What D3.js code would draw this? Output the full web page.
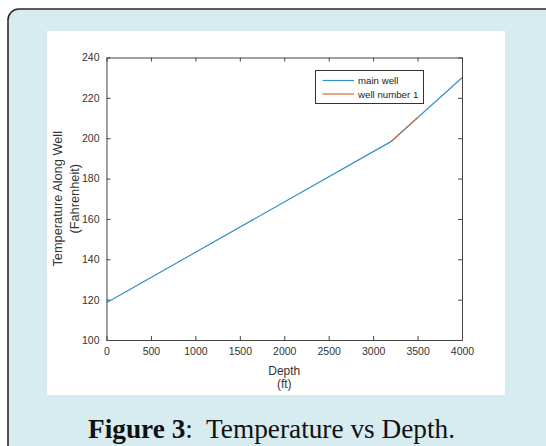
<!DOCTYPE html>
<html>
<head>
<meta charset="utf-8">
<script src="https://cdn.jsdelivr.net/npm/d3@7"></script>
<style>
  html, body { margin: 0; padding: 0; background: #ffffff; }
  svg { display: block; }
</style>
</head>
<body>
<svg id="fig" width="546" height="446"></svg>
<script>
// Temperature profile along the well
const mainWellDepth = [0, 3200, 4000];
const mainWellTemp  = [118.5, 198.3, 230];
const branchDepth   = [3200, 3500];
const branchTemp    = [198.3, 210.2];

const seriesNames  = ["main well", "well number 1"];
const seriesColors = ["#3590c8", "#d2693a"];

const xTicks = [0, 500, 1000, 1500, 2000, 2500, 3000, 3500, 4000];
const yTicks = [100, 120, 140, 160, 180, 200, 220, 240];

const svg = d3.select("#fig");

// Card background with rounded frame
svg.append("rect")
  .attr("x", 8).attr("y", 9)
  .attr("width", 560).attr("height", 460)
  .attr("rx", 11).attr("ry", 11)
  .attr("fill", "#d7ecf1")
  .attr("stroke", "#2a2a2a")
  .attr("stroke-width", 1.6);

// White figure panel
svg.append("rect")
  .attr("x", 47).attr("y", 31)
  .attr("width", 458).attr("height", 364)
  .attr("fill", "#ffffff");

const plotL = 106.5, plotR = 462, plotT = 57.5, plotB = 340;

const x = d3.scaleLinear().domain([0, 4000]).range([plotL, plotR]);
const y = d3.scaleLinear().domain([100, 240]).range([plotB, plotT]);

const axisColor = "#444";
const tickFont = "Liberation Sans, Arial, Helvetica, sans-serif";
const fmt = d3.format("d");

// Tick marks point inward on all four sides
const tickLen = 4;
const g = svg.append("g");

const bottomAxis = g.append("g")
  .attr("transform", `translate(0,${plotB})`)
  .call(d3.axisBottom(x).tickValues(xTicks).tickFormat(fmt).tickSizeInner(-tickLen).tickSizeOuter(0).tickPadding(8));
const leftAxis = g.append("g")
  .attr("transform", `translate(${plotL},0)`)
  .call(d3.axisLeft(y).tickValues(yTicks).tickFormat(fmt).tickSizeInner(-tickLen).tickSizeOuter(0).tickPadding(7));
const topAxis = g.append("g")
  .attr("transform", `translate(0,${plotT})`)
  .call(d3.axisTop(x).tickValues(xTicks).tickSizeInner(-tickLen).tickSizeOuter(0).tickFormat(""));
const rightAxis = g.append("g")
  .attr("transform", `translate(${plotR},0)`)
  .call(d3.axisRight(y).tickValues(yTicks).tickSizeInner(-tickLen).tickSizeOuter(0).tickFormat(""));

[bottomAxis, leftAxis, topAxis, rightAxis].forEach(a => {
  a.select(".domain").attr("stroke", axisColor).attr("stroke-width", 1);
  a.selectAll(".tick line").attr("stroke", axisColor);
  a.selectAll(".tick text")
    .attr("fill", "#333")
    .style("font-family", tickFont)
    .style("font-size", "10.5px");
});

// Data lines
const line = d3.line().x(d => x(d[0])).y(d => y(d[1]));
const mainPts = mainWellDepth.map((d, i) => [d, mainWellTemp[i]]);
const branchPts = branchDepth.map((d, i) => [d, branchTemp[i]]);

svg.append("path").datum(mainPts)
  .attr("d", line).attr("fill", "none")
  .attr("stroke", seriesColors[0]).attr("stroke-width", 1.2);
svg.append("path").datum(branchPts)
  .attr("d", line).attr("fill", "none")
  .attr("stroke", seriesColors[1]).attr("stroke-width", 1.2);

// Axis titles
const labelFont = "Liberation Sans, Arial, Helvetica, sans-serif";
const xMid = (plotL + plotR) / 2;
const xt = svg.append("text")
  .attr("x", xMid).attr("y", 375)
  .attr("text-anchor", "middle")
  .attr("fill", "#333")
  .style("font-family", labelFont).style("font-size", "12px");
xt.append("tspan").attr("x", xMid).text("Depth");
xt.append("tspan").attr("x", xMid).attr("dy", 12.5).text("(ft)");

const yMid = (plotT + plotB) / 2;
const yt = svg.append("text")
  .attr("transform", `translate(62,${yMid}) rotate(-90)`)
  .attr("text-anchor", "middle")
  .attr("fill", "#333")
  .style("font-family", labelFont).style("font-size", "12.8px");
yt.append("tspan").attr("x", 0).attr("y", 0).text("Temperature Along Well");
yt.append("tspan").attr("x", 0).attr("dy", 17).text("(Fahrenheit)");

// Legend
const lg = svg.append("g");
lg.append("rect")
  .attr("x", 315.5).attr("y", 70.5)
  .attr("width", 108).attr("height", 33)
  .attr("fill", "#fff").attr("stroke", "#333").attr("stroke-width", 1);
seriesNames.forEach((name, i) => {
  const ly = 80.5 + i * 13.5;
  lg.append("line")
    .attr("x1", 322.5).attr("x2", 354)
    .attr("y1", ly).attr("y2", ly)
    .attr("stroke", seriesColors[i]).attr("stroke-width", 1.2);
  lg.append("text")
    .attr("x", 358).attr("y", ly + 3.5)
    .attr("fill", "#222")
    .style("font-family", labelFont).style("font-size", "9.7px")
    .text(name);
});

// Caption
const cap = svg.append("text")
  .attr("x", 88).attr("y", 438)
  .attr("fill", "#111")
  .style("font-family", "Liberation Serif, 'Times New Roman', serif")
  .style("font-size", "27.3px");
cap.append("tspan").style("font-weight", "bold").text("Figure 3");
cap.append("tspan").text(":\u00a0 Temperature vs Depth.");
</script>
</body>
</html>
